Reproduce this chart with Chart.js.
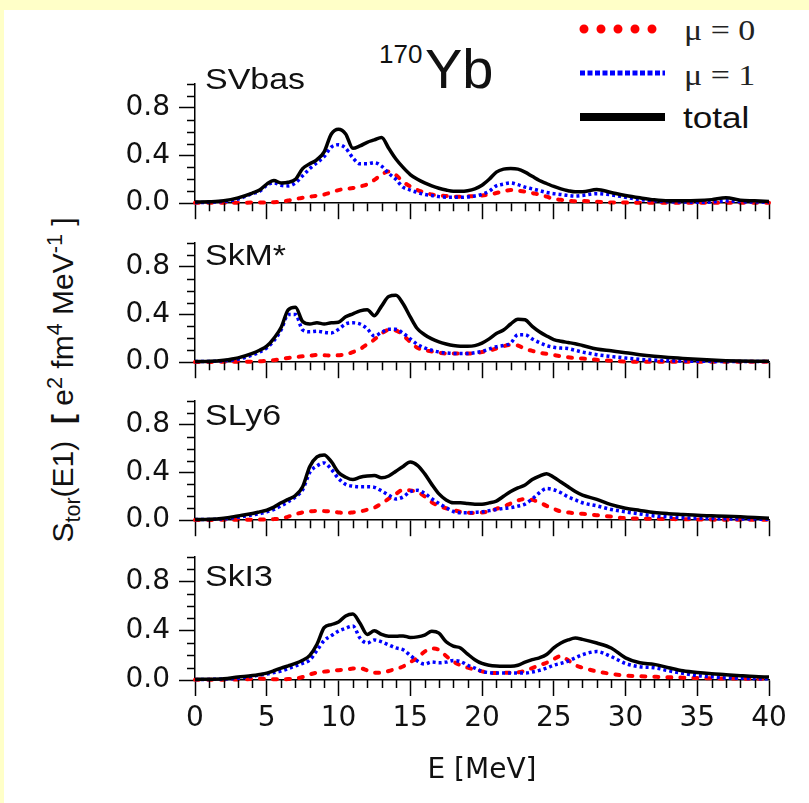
<!DOCTYPE html>
<html>
<head>
<meta charset="utf-8">
<script src="https://cdn.jsdelivr.net/npm/chart.js@4.4.1/dist/chart.umd.min.js"></script>
<style>
  body { margin: 0; width: 809px; height: 803px; background: #ffffc8; position: relative; overflow: hidden;
         font-family: 'Liberation Sans', Arial, sans-serif; color: #111; }
  #sheet { position: absolute; left: 4px; top: 10px; right: 0; bottom: 0; background: #fff; }
  canvas { position: absolute; left: 0; }
  .t { position: absolute; line-height: 1; white-space: nowrap; }
  .wide { transform: scaleX(1.17); transform-origin: 0 0; }
  .serif { font-family: 'Liberation Serif', 'Times New Roman', serif; }
  #ytitle sub, #ytitle sup { font-size: 0.72em; line-height: 0; }
</style>
</head>
<body>
<div id="sheet"></div>

<!-- legend -->
<svg class="t" style="left:575px; top:15px;" width="95" height="115">
  <line x1="9" y1="14" x2="86" y2="14" stroke="#ff0000" stroke-width="9" stroke-dasharray="0 17" stroke-linecap="round"/>
  <line x1="5" y1="58" x2="90" y2="58" stroke="#0000ff" stroke-width="5" stroke-dasharray="5 2.5"/>
  <line x1="5" y1="102" x2="90" y2="102" stroke="#000" stroke-width="8"/>
</svg>
<div class="t serif wide" style="left:684px; top:16px; font-size:29px; color:#222;">μ = 0</div>
<div class="t serif wide" style="left:684px; top:61px; font-size:29px; color:#222;">μ = 1</div>
<div class="t wide" style="left:683px; top:103px; font-size:30px;">total</div>

<!-- nucleus -->
<div class="t" style="left:379px; top:41px; font-size:26px;">170</div>
<div class="t" style="left:425px; top:41px; font-size:56px;">Yb</div>

<!-- y axis title -->
<div class="t" id="ytitle" style="left:63px; top:380px; font-size:30px; transform: translate(-50%,-50%) rotate(-90deg);">S<sub>tor</sub>(E1)&nbsp;&nbsp;<b>[</b>&nbsp;e<sup>2</sup>&nbsp;fm<sup>4</sup>&nbsp;MeV<sup>-1</sup>&nbsp;]</div>

<script>
// ── energy grid [MeV] ──
const energy = [0, 1, 2, 3, 4,
  4.5, 5, 5.5, 6, 6.5, 7, 7.5, 8, 8.5, 9, 9.5,
  10, 10.5, 11, 11.5, 12, 12.5, 13, 13.5, 14, 14.5, 15, 15.5,
  16, 16.5, 17, 17.5, 18, 18.5, 19, 19.5, 20, 20.5, 21, 21.5,
  22, 22.5, 23, 23.5, 24, 24.5, 25, 25.5, 26, 26.5, 27,
  28, 29, 30, 31, 32, 33, 34, 35, 36, 37, 38, 39, 40];

// ── SVbas ──
const svbasTotal = [0.01, 0.012, 0.02, 0.045, 0.085,
  0.11, 0.16, 0.19, 0.17, 0.175, 0.2, 0.29, 0.33, 0.365, 0.43, 0.58,
  0.62, 0.58, 0.46, 0.48, 0.51, 0.53, 0.55, 0.46, 0.37, 0.3, 0.24, 0.2,
  0.17, 0.145, 0.125, 0.11, 0.1, 0.1, 0.105, 0.12, 0.15, 0.2, 0.26, 0.285,
  0.29, 0.285, 0.26, 0.225, 0.19, 0.165, 0.14, 0.12, 0.105, 0.095, 0.095,
  0.115, 0.09, 0.065, 0.045, 0.028, 0.02, 0.02, 0.022, 0.03, 0.045, 0.025, 0.02, 0.015];
const svbasMu1 = [0.005, 0.008, 0.015, 0.035, 0.08,
  0.1, 0.15, 0.17, 0.15, 0.145, 0.17, 0.23, 0.29, 0.34, 0.39, 0.47,
  0.49, 0.46, 0.38, 0.33, 0.33, 0.34, 0.31, 0.25, 0.2, 0.134, 0.11, 0.09,
  0.073, 0.065, 0.055, 0.05, 0.05, 0.049, 0.052, 0.06, 0.075, 0.1, 0.145, 0.16,
  0.17, 0.155, 0.135, 0.12, 0.105, 0.09, 0.08, 0.073, 0.065, 0.06, 0.065,
  0.08, 0.07, 0.05, 0.03, 0.02, 0.012, 0.01, 0.008, 0.01, 0.02, 0.012, 0.01, 0.008];
const svbasMu0 = [0.003, 0.003, 0.003, 0.004, 0.005,
  0.005, 0.007, 0.008, 0.012, 0.022, 0.036, 0.045, 0.054, 0.063, 0.073, 0.09,
  0.11, 0.12, 0.127, 0.14, 0.158, 0.195, 0.24, 0.265, 0.235, 0.18, 0.14, 0.11,
  0.09, 0.073, 0.065, 0.06, 0.054, 0.055, 0.057, 0.06, 0.065, 0.073, 0.085, 0.1,
  0.11, 0.105, 0.097, 0.085, 0.073, 0.055, 0.036, 0.028, 0.022, 0.017, 0.018,
  0.012, 0.006, 0.005, 0.004, 0.004, 0.004, 0.004, 0.003, 0.003, 0.003, 0.003, 0.003, 0.003];

// ── SkM* ──
const skmTotal = [0.005, 0.007, 0.017, 0.036, 0.073,
  0.1, 0.134, 0.2, 0.29, 0.44, 0.46, 0.34, 0.32, 0.33, 0.32, 0.33,
  0.335, 0.38, 0.405, 0.43, 0.44, 0.39, 0.47, 0.55, 0.56, 0.49, 0.38, 0.28,
  0.23, 0.195, 0.17, 0.153, 0.14, 0.134, 0.134, 0.139, 0.16, 0.195, 0.24, 0.27,
  0.32, 0.36, 0.355, 0.3, 0.255, 0.22, 0.19, 0.175, 0.165, 0.155, 0.14,
  0.11, 0.095, 0.08, 0.063, 0.05, 0.04, 0.032, 0.024, 0.018, 0.013, 0.01, 0.008, 0.007];
const skmMu1 = [0.005, 0.006, 0.012, 0.025, 0.06,
  0.085, 0.12, 0.18, 0.27, 0.4, 0.4, 0.27, 0.255, 0.26, 0.25, 0.245,
  0.275, 0.32, 0.33, 0.32, 0.28, 0.22, 0.25, 0.275, 0.275, 0.243, 0.195, 0.15,
  0.12, 0.1, 0.085, 0.078, 0.073, 0.073, 0.073, 0.08, 0.09, 0.11, 0.13, 0.14,
  0.16, 0.23, 0.23, 0.195, 0.165, 0.139, 0.125, 0.118, 0.114, 0.1, 0.085,
  0.063, 0.048, 0.035, 0.024, 0.018, 0.012, 0.01, 0.008, 0.007, 0.006, 0.006, 0.005, 0.005];
const skmMu0 = [0.002, 0.002, 0.003, 0.003, 0.005,
  0.007, 0.012, 0.017, 0.027, 0.036, 0.043, 0.049, 0.055, 0.06, 0.058, 0.056,
  0.058, 0.065, 0.085, 0.11, 0.15, 0.19, 0.24, 0.27, 0.265, 0.225, 0.17, 0.12,
  0.1, 0.09, 0.08, 0.073, 0.073, 0.073, 0.073, 0.075, 0.085, 0.097, 0.115, 0.134,
  0.145, 0.14, 0.11, 0.095, 0.08, 0.07, 0.06, 0.05, 0.041, 0.035, 0.03,
  0.02, 0.012, 0.005, 0.004, 0.003, 0.003, 0.003, 0.003, 0.003, 0.003, 0.003, 0.003, 0.003];

// ── SLy6 ──
const sly6Total = [0.005, 0.007, 0.017, 0.036, 0.056,
  0.07, 0.085, 0.11, 0.146, 0.175, 0.207, 0.28, 0.45, 0.53, 0.547, 0.49,
  0.4, 0.36, 0.34, 0.36, 0.37, 0.375, 0.355, 0.37, 0.41, 0.45, 0.487, 0.46,
  0.39, 0.3, 0.22, 0.17, 0.146, 0.146, 0.14, 0.134, 0.134, 0.145, 0.16, 0.2,
  0.24, 0.27, 0.295, 0.34, 0.37, 0.39, 0.36, 0.32, 0.28, 0.24, 0.21,
  0.175, 0.13, 0.1, 0.082, 0.065, 0.055, 0.048, 0.041, 0.037, 0.033, 0.028, 0.022, 0.017];
const sly6Mu1 = [0.005, 0.006, 0.012, 0.025, 0.045,
  0.055, 0.07, 0.09, 0.12, 0.155, 0.195, 0.255, 0.4, 0.455, 0.48, 0.426,
  0.35, 0.3, 0.285, 0.28, 0.28, 0.275, 0.245, 0.21, 0.178, 0.195, 0.24, 0.25,
  0.225, 0.18, 0.14, 0.105, 0.073, 0.062, 0.062, 0.066, 0.07, 0.08, 0.09, 0.098,
  0.105, 0.118, 0.135, 0.178, 0.23, 0.265, 0.255, 0.23, 0.195, 0.17, 0.146,
  0.12, 0.09, 0.07, 0.052, 0.036, 0.027, 0.02, 0.017, 0.014, 0.012, 0.01, 0.009, 0.008];
const sly6Mu0 = [0.002, 0.002, 0.003, 0.003, 0.004,
  0.005, 0.007, 0.009, 0.015, 0.03, 0.05, 0.066, 0.073, 0.078, 0.076, 0.073,
  0.065, 0.06, 0.065, 0.073, 0.088, 0.105, 0.14, 0.18, 0.22, 0.255, 0.25, 0.235,
  0.2, 0.15, 0.12, 0.1, 0.085, 0.07, 0.063, 0.06, 0.065, 0.075, 0.095, 0.114,
  0.14, 0.165, 0.178, 0.17, 0.15, 0.12, 0.095, 0.073, 0.065, 0.058, 0.054,
  0.042, 0.03, 0.017, 0.014, 0.012, 0.01, 0.008, 0.006, 0.005, 0.004, 0.003, 0.003, 0.003];

// ── SkI3 ──
const ski3Total = [0.005, 0.006, 0.01, 0.024, 0.036,
  0.045, 0.056, 0.075, 0.097, 0.115, 0.134, 0.16, 0.2, 0.29, 0.425, 0.45,
  0.47, 0.52, 0.535, 0.46, 0.37, 0.4, 0.37, 0.355, 0.355, 0.358, 0.345, 0.35,
  0.365, 0.395, 0.38, 0.31, 0.275, 0.26, 0.21, 0.165, 0.134, 0.12, 0.114, 0.112,
  0.112, 0.12, 0.145, 0.165, 0.18, 0.207, 0.26, 0.3, 0.325, 0.34, 0.33,
  0.3, 0.26, 0.18, 0.14, 0.127, 0.1, 0.075, 0.06, 0.05, 0.043, 0.035, 0.028, 0.024];
const ski3Mu1 = [0.004, 0.005, 0.008, 0.015, 0.03,
  0.04, 0.049, 0.06, 0.073, 0.093, 0.114, 0.135, 0.163, 0.24, 0.32, 0.36,
  0.397, 0.42, 0.438, 0.34, 0.3, 0.325, 0.31, 0.285, 0.26, 0.245, 0.2, 0.155,
  0.129, 0.146, 0.14, 0.145, 0.158, 0.15, 0.12, 0.097, 0.07, 0.06, 0.056, 0.056,
  0.056, 0.056, 0.056, 0.065, 0.078, 0.097, 0.12, 0.135, 0.153, 0.18, 0.205,
  0.231, 0.19, 0.134, 0.108, 0.1, 0.075, 0.055, 0.036, 0.026, 0.017, 0.014, 0.011, 0.01];
const ski3Mu0 = [0.002, 0.002, 0.003, 0.004, 0.008,
  0.012, 0.008, 0.006, 0.006, 0.008, 0.012, 0.024, 0.045, 0.06, 0.068, 0.073,
  0.08, 0.085, 0.093, 0.095, 0.078, 0.058, 0.06, 0.073, 0.09, 0.11, 0.145, 0.18,
  0.23, 0.255, 0.245, 0.195, 0.15, 0.12, 0.1, 0.085, 0.07, 0.06, 0.056, 0.058,
  0.06, 0.063, 0.075, 0.097, 0.12, 0.14, 0.17, 0.195, 0.16, 0.12, 0.1,
  0.07, 0.05, 0.036, 0.03, 0.026, 0.022, 0.019, 0.016, 0.014, 0.012, 0.011, 0.01, 0.009];

// ── axes ──
const xMajorTicks = [0, 5, 10, 15, 20, 25, 30, 35, 40];
const xMinorTicks = [1, 2, 3, 4, 6, 7, 8, 9, 11, 12, 13, 14, 16, 17, 18, 19,
  21, 22, 23, 24, 26, 27, 28, 29, 31, 32, 33, 34, 36, 37, 38, 39];
const yMajorTicks = [0, 0.4, 0.8];
const yMinorTicks = [0.1, 0.2, 0.3, 0.5, 0.6, 0.7, 0.9, 1.0];

const panels = [
  { name: 'SVbas', total: svbasTotal, mu1: svbasMu1, mu0: svbasMu0 },
  { name: 'SkM*',  total: skmTotal,   mu1: skmMu1,   mu0: skmMu0 },
  { name: 'SLy6',  total: sly6Total,  mu1: sly6Mu1,  mu0: sly6Mu0 },
  { name: 'SkI3',  total: ski3Total,  mu1: ski3Mu1,  mu0: ski3Mu0 },
];

// layout (px)
const ZERO_Y = [207, 366, 524, 680];
const LABEL_BASE = [89, 265, 425, 586];
const AREA_H = 137, PAD_TOP = 12, AXIS_LEFT = 195, PAD_RIGHT = 40;
const TICK_FONT = "'DejaVu Sans', 'Liberation Sans', sans-serif";

const minorTicks = {
  id: 'minorTicks',
  afterDraw(chart) {
    const { ctx, chartArea: a, scales: { x, y } } = chart;
    ctx.save();
    ctx.strokeStyle = '#000';
    ctx.lineWidth = 1.5;
    ctx.beginPath();
    xMinorTicks.forEach(v => {
      const px = Math.round(x.getPixelForValue(v)) + 0.5;
      ctx.moveTo(px, a.bottom); ctx.lineTo(px, a.bottom + 8);
    });
    yMinorTicks.forEach(v => {
      const py = Math.round(y.getPixelForValue(v)) + 0.5;
      ctx.moveTo(a.left, py); ctx.lineTo(a.left - 8, py);
    });
    ctx.stroke();
    ctx.restore();
  }
};

const pts = vals => vals.map((v, k) => ({ x: energy[k], y: v }));

panels.forEach((p, i) => {
  const last = i === panels.length - 1;
  const xh = last ? 803 - ZERO_Y[i] : 22;
  const cv = document.createElement('canvas');
  cv.width = 809;
  cv.height = PAD_TOP + AREA_H + xh;
  cv.style.top = (ZERO_Y[i] - AREA_H - PAD_TOP) + 'px';
  document.body.appendChild(cv);

  const lab = document.createElement('div');
  lab.className = 't wide';
  lab.textContent = p.name;
  lab.style.cssText = `left:205px; top:${LABEL_BASE[i] - 24.5}px; font-size:29px;`;
  document.body.appendChild(lab);

  const common = { pointRadius: 0, fill: false, cubicInterpolationMode: 'monotone', clip: false };
  const axisGrid = { drawOnChartArea: false, tickLength: 16, tickWidth: 1.5, tickColor: '#000' };
  const axisBorder = { color: '#000', width: 1.5 };

  new Chart(cv, {
    type: 'line',
    data: {
      datasets: [
        { ...common, label: 'total', data: pts(p.total), borderColor: '#000', borderWidth: 3.5, order: 0 },
        { ...common, label: 'μ = 1', data: pts(p.mu1), borderColor: '#0000ff', borderWidth: 3.5,
          borderDash: [3, 3], order: 1 },
        { ...common, label: 'μ = 0', data: pts(p.mu0), borderColor: '#ff0000', borderWidth: 4,
          borderDash: [4, 9], borderCapStyle: 'round', order: 2 },
      ]
    },
    options: {
      responsive: false,
      animation: false,
      events: [],
      layout: { padding: { top: PAD_TOP, right: PAD_RIGHT, left: 0, bottom: 0 } },
      plugins: { legend: { display: false }, tooltip: { enabled: false } },
      scales: {
        x: {
          type: 'linear', min: 0, max: 40,
          afterBuildTicks: s => { s.ticks = xMajorTicks.map(v => ({ value: v })); },
          afterFit: s => { s.height = xh; },
          grid: axisGrid, border: axisBorder,
          ticks: { display: last, autoSkip: false, maxRotation: 0, padding: 6, color: '#111',
                   font: { family: TICK_FONT, size: 28 } },
          title: { display: last, text: 'E [MeV]', color: '#111', font: { family: TICK_FONT, size: 28 },
                   padding: { top: 0, bottom: 15 } }
        },
        y: {
          min: 0, max: 1,
          afterBuildTicks: s => { s.ticks = yMajorTicks.map(v => ({ value: v })); },
          afterFit: s => { s.width = AXIS_LEFT; },
          grid: axisGrid, border: axisBorder,
          ticks: { padding: 9, color: '#111', font: { family: TICK_FONT, size: 28 },
                   callback: v => Number(v).toFixed(1) }
        }
      }
    },
    plugins: [minorTicks]
  });
});
</script>
</body>
</html>
